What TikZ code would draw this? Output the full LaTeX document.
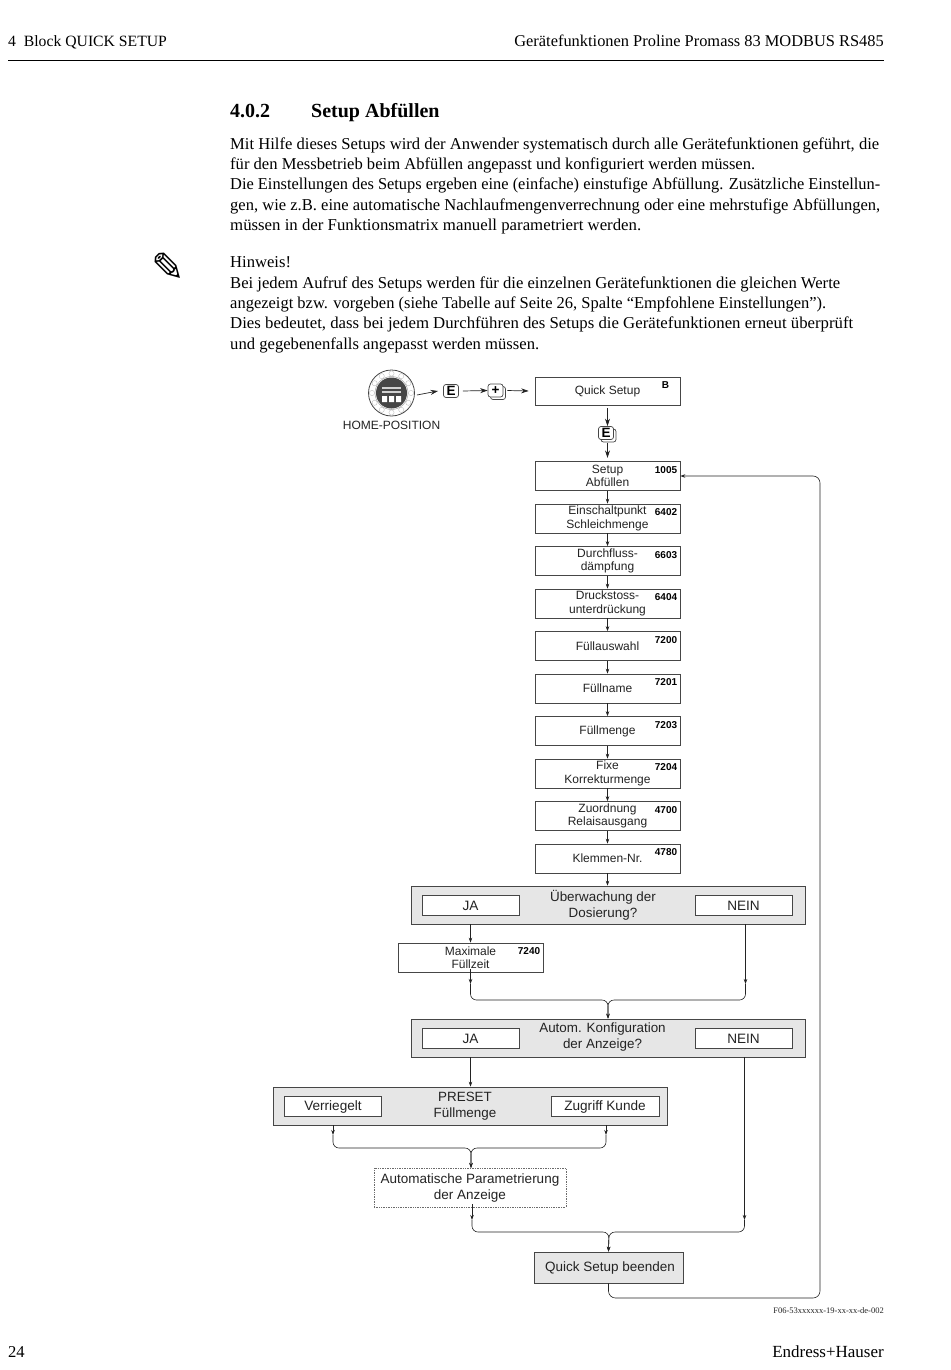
\documentclass[tikz,border=0pt]{standalone}
\usepackage{fontspec}
\usepackage{graphicx}
\setmainfont{Liberation Serif}
\setsansfont{Liberation Sans}
\newfontfamily\symbolfont{DejaVu Sans}
\usepackage{xcolor}
\usetikzlibrary{arrows.meta,positioning,calc,shadows}
\definecolor{panelgray} {RGB}{230,230,230}
\definecolor{boxline}   {RGB}{ 70, 70, 70}
\definecolor{inkgray}   {RGB}{ 35, 35, 35}
\newcommand{\fitline}[2]{\resizebox{#1pt}{\height}{#2}}
\tikzset{
  flow/.style={-{Stealth[length=5pt,width=3.5pt]}, line width=0.6pt, inkgray},
  keyflow/.style={-{Stealth[length=7.5pt,width=5pt]}, line width=0.7pt, inkgray},
  merge/.style={flow, rounded corners=6pt},
  stepbox/.style={draw=boxline, line width=0.7pt, fill=white, minimum width=145pt,
    minimum height=29pt, inner sep=0pt, align=center, text=inkgray,
    font=\sffamily\fontsize{12}{13.6}\selectfont},
  codetag/.style={inner sep=0pt, anchor=north east, text=black,
    font=\sffamily\bfseries\fontsize{10}{11}\selectfont},
  panel/.style={draw=boxline, line width=0.7pt, fill=panelgray, minimum width=394pt,
    minimum height=38pt, inner sep=0pt},
  choicebox/.style={draw=boxline, line width=0.7pt, fill=white, minimum width=97pt,
    minimum height=20pt, inner sep=0pt, text=inkgray,
    font=\sffamily\fontsize{13.6}{15}\selectfont},
  paneltext/.style={inner sep=0pt, align=center, text=inkgray,
    font=\sffamily\fontsize{13.4}{16}\selectfont},
  keybox/.style={draw=boxline, line width=0.7pt, fill=white, rounded corners=2.5pt,
    minimum width=15pt, minimum height=13pt, inner sep=0pt,
    font=\sffamily\bfseries\fontsize{13.5}{14}\selectfont},
  stackkey/.style={keybox, copy shadow={shadow xshift=2.5pt, shadow yshift=-2.5pt,
    draw=boxline, fill=white}},
  bodyline/.style={anchor=base west, inner sep=0pt, text=black,
    font=\fontsize{16.6}{18}\selectfont},
}

\begin{document}
\begin{tikzpicture}[x=1pt,y=-1pt]
\useasboundingbox (0,0) rectangle (950,1370);

% page head
\node[bodyline, font=\fontsize{15.7}{18}\selectfont] (HeadL) at (8,47) {4\enspace Block QUICK SETUP};
\node[bodyline, anchor=base east, font=\fontsize{16.4}{18}\selectfont] (HeadR) at (884,47)
  {Gerätefunktionen Proline Promass 83 MODBUS RS485};
\draw[line width=1pt, black] (8,61) -- (884,61);

\node[bodyline, font=\bfseries\fontsize{20}{22}\selectfont] (SecNo) at (230,118) {4.0.2};
\node[bodyline, font=\bfseries\fontsize{20}{22}\selectfont] (SecTitle) at (311,118) {Setup Abfüllen};

\node[bodyline] (P1) at (230,149.5) {\fitline{649}{Mit Hilfe dieses Setups wird der Anwender systematisch durch alle Gerätefunktionen geführt, die}};
\node[bodyline] (P2) at (230,169.5) {\fitline{525}{für den Messbetrieb beim Abfüllen angepasst und konfiguriert werden müssen.}};
\node[bodyline] (P3) at (230,189.5) {\fitline{650}{Die Einstellungen des Setups ergeben eine (einfache) einstufige Abfüllung. Zusätzliche Einstellun-}};
\node[bodyline] (P4) at (230,210.5) {\fitline{650}{gen, wie z.B. eine automatische Nachlaufmengenverrechnung oder eine mehrstufige Abfüllungen,}};
\node[bodyline] (P5) at (230,230.5) {\fitline{411}{müssen in der Funktionsmatrix manuell parametriert werden.}};

\node[inner sep=0pt, font=\symbolfont\fontsize{40}{40}\selectfont] (Pencil) at (168,267) {✎};
\node[bodyline] (N1) at (230,267.5) {Hinweis!};
\node[bodyline] (N2) at (230,288.5) {\fitline{610}{Bei jedem Aufruf des Setups werden für die einzelnen Gerätefunktionen die gleichen Werte}};
\node[bodyline] (N3) at (230,308.5) {\fitline{596}{angezeigt bzw. vorgeben (siehe Tabelle auf Seite 26, Spalte “Empfohlene Einstellungen”).}};
\node[bodyline] (N4) at (230,328.5) {\fitline{623}{Dies bedeutet, dass bei jedem Durchführen des Setups die Gerätefunktionen erneut überprüft}};
\node[bodyline] (N5) at (230,349.5) {\fitline{309}{und gegebenenfalls angepasst werden müssen.}};

% home position
\node[draw=boxline, circle, minimum size=46pt, inner sep=0pt, line width=0.8pt] (Home) at (391.5,393) {};
\draw[boxline!50, line width=0.5pt] (Home.center) circle (16.5pt);
\foreach \a in {0,30,...,330}
  \draw[boxline!35, line width=0.4pt] (Home.center) ++(\a:19.5pt) circle (2.6pt);
\fill[boxline] (Home.center) circle (15.5pt);
\fill[white!75!boxline] (382,387) rectangle (401,388.5);
\fill[white!75!boxline] (382,391) rectangle (401,392.5);
\fill[white] (382,396) rectangle (387,402) (389,396) rectangle (394,402) (396,396) rectangle (401,402);
\node[inner sep=0pt, text=inkgray, font=\sffamily\fontsize{12}{14}\selectfont, below=5pt of Home] (HomeText) {HOME-POSITION};

\node[keybox] (KeyE) at (451,391) {E};
\node[stackkey] (KeyPlus) at (495.5,390.5) {+};
\node[stepbox, minimum height=28pt] (QS) at (607.5,391) {Quick Setup};
\node[codetag] at ($(QS.north east)+(-11pt,-5pt)$) {B};
\node[stackkey] (KeyE2) at (606,433) {E};

\draw[keyflow] (Home.east) ++(2pt,-2pt) coordinate (HomeOut) -- (KeyE.west -| 438,391);
\draw[keyflow] (KeyE.east) ++(4pt,0) -- (KeyPlus.west);
\draw[keyflow] (KeyPlus.east) ++(4pt,0) -- ($(QS.west)+(-6pt,0)$);
\draw[keyflow] ($(QS.south)+(0,-3pt)$) -- (QS.south |- KeyE2.north);
\draw[keyflow] (QS.south |- KeyE2.south) ++(0,-3pt) -- ++(0,-15pt);

% function chain
\node[stepbox] (S1) at (607.5,476) {Setup\\Abfüllen};
\node[stepbox, below=12.8pt of S1] (S2) {Einschaltpunkt\\Schleichmenge};
\node[stepbox, below=12.8pt of S2] (S3) {Durchfluss-\\dämpfung};
\node[stepbox, below=12.8pt of S3] (S4) {Druckstoss-\\unterdrückung};
\node[stepbox, below=12.8pt of S4] (S5) {Füllauswahl};
\node[stepbox, below=12.8pt of S5] (S6) {Füllname};
\node[stepbox, below=12.8pt of S6] (S7) {Füllmenge};
\node[stepbox, below=12.8pt of S7] (S8) {Fixe\\Korrekturmenge};
\node[stepbox, below=12.8pt of S8] (S9) {Zuordnung\\Relaisausgang};
\node[stepbox, below=12.8pt of S9] (S10) {Klemmen-Nr.};

\node[codetag] at ($(S1.north east)+(-3pt,-5pt)$) {1005};
\node[codetag] at ($(S2.north east)+(-3pt,-5pt)$) {6402};
\node[codetag] at ($(S3.north east)+(-3pt,-5pt)$) {6603};
\node[codetag] at ($(S4.north east)+(-3pt,-5pt)$) {6404};
\node[codetag] at ($(S5.north east)+(-3pt,-5pt)$) {7200};
\node[codetag] at ($(S6.north east)+(-3pt,-5pt)$) {7201};
\node[codetag] at ($(S7.north east)+(-3pt,-5pt)$) {7203};
\node[codetag] at ($(S8.north east)+(-3pt,-5pt)$) {7204};
\node[codetag] at ($(S9.north east)+(-3pt,-5pt)$) {4700};
\node[codetag] at ($(S10.north east)+(-3pt,-5pt)$) {4780};

\draw[flow] (S1) -- (S2);
\draw[flow] (S2) -- (S3);
\draw[flow] (S3) -- (S4);
\draw[flow] (S4) -- (S5);
\draw[flow] (S5) -- (S6);
\draw[flow] (S6) -- (S7);
\draw[flow] (S7) -- (S8);
\draw[flow] (S8) -- (S9);
\draw[flow] (S9) -- (S10);

% first question
\node[panel] (D1) at (608,905) {};
\node[choicebox] (D1Ja) at (470.5,905.5) {JA};
\node[choicebox] (D1No) at (743.5,905.5) {NEIN};
\node[paneltext] (D1Text) at (603,905) {Überwachung der\\Dosierung?};
\node[stepbox] (Max) at (470.5,957.5) {Maximale\\Füllzeit};
\node[codetag] at ($(Max.north east)+(-3pt,-5pt)$) {7240};
\draw[flow] (S10) -- (S10 |- D1.north);
\draw[flow] (D1Ja |- D1.south) -- (Max);

% second question
\node[panel] (D2) at (608,1038) {};
\node[choicebox] (D2Ja) at (470.5,1038.5) {JA};
\node[choicebox] (D2No) at (743.5,1038.5) {NEIN};
\node[paneltext] (D2Text) at (602.5,1037.5) {Autom. Konfiguration\\der Anzeige?};
\coordinate (MaxIn) at (470.5,984);
\coordinate (D1In) at (745.5,984);
\draw[flow] ($(Max.south)+(0,3pt)$) -- (MaxIn);
\draw[flow] (D1In |- D1.south) -- (D1In);
\draw[merge] (MaxIn) -- (470.5,1000) -- (608,1000) -- (D2.north);
\draw[merge] (D1In) -- (745.5,1000) -- (608,1000) -- (D2.north);

% preset
\node[panel] (Pre) at (470.5,1106) {};
\node[choicebox] (PreL) at (333,1106.5) {Verriegelt};
\node[choicebox, minimum width=108pt] (PreR) at (605,1106.5) {Zugriff Kunde};
\node[paneltext] (PreText) at (465,1106) {PRESET\\Füllmenge};
\draw[flow] (D2Ja |- D2.south) -- (D2Ja |- Pre.north);

\node[stepbox, draw=boxline!80, densely dotted, line width=0.5pt, minimum width=192pt, minimum height=39pt,
      font=\sffamily\fontsize{13.5}{16}\selectfont] (Auto) at (470,1187.5)
  {Automatische Parametrierung\\der Anzeige};
\coordinate (PreLIn) at (333,1135);
\coordinate (PreRIn) at (606,1135);
\draw[flow] (PreL |- Pre.south) -- (PreLIn);
\draw[flow] (PreRIn |- Pre.south) -- (PreRIn);
\draw[merge] (PreLIn) -- (333,1148) -- (471,1148) -- (471,1168);
\draw[merge] (PreRIn) -- (606,1148) -- (471,1148) -- (471,1168);

% end of setup
\node[stepbox, fill=panelgray, minimum width=149pt, minimum height=31pt,
      font=\sffamily\fontsize{13.5}{16}\selectfont] (End) at (608.5,1267.5) {\hspace{3pt}Quick Setup beenden};
\coordinate (AutoIn) at (472,1220);
\coordinate (D2In) at (744.5,1220);
\draw[flow] (AutoIn |- Auto.south) ++(0,3pt) -- (AutoIn);
\draw[flow] (D2In |- D2.south) -- (D2In);
\draw[merge] (AutoIn) -- (472,1232) -- (609,1232) -- (End.north);
\draw[merge] (D2In) -- (744.5,1232) -- (609,1232) -- (End.north);

% back to the start of the setup
\coordinate (BackDown) at (820,1298);
\draw[flow, rounded corners=7pt] (End.south) -- (End.south |- BackDown) -- (BackDown) -- (BackDown |- S1.east) -- (S1.east);

% page foot
\node[inner sep=0pt, anchor=base east, text=inkgray, font=\fontsize{8.5}{9}\selectfont] (FigId) at (884,1313) {F06-53xxxxxx-19-xx-xx-de-002};
\node[bodyline] (PageNo) at (8,1357) {24};
\node[bodyline, anchor=base east, font=\fontsize{17}{18}\selectfont] (Brand) at (884,1357) {Endress+Hauser};

\end{tikzpicture}
\end{document}
